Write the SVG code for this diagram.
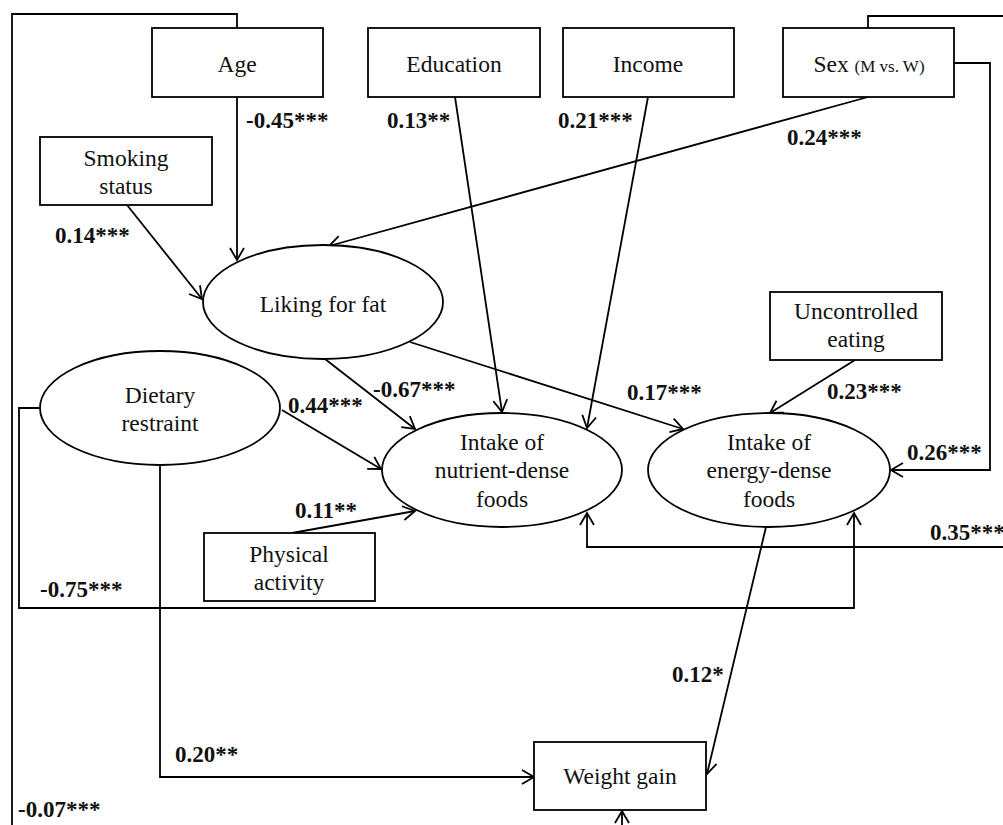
<svg xmlns="http://www.w3.org/2000/svg" width="1003" height="825" viewBox="0 0 1003 825">
<defs>
<marker id="arr" viewBox="-14 -8 16 16" refX="0" refY="0" markerWidth="16" markerHeight="16" markerUnits="userSpaceOnUse" orient="auto">
<path d="M-12,-7 L0,0 L-12,7" fill="none" stroke="#000" stroke-width="1.8"/>
</marker>
<style>
.n{fill:#fff;stroke:#000;stroke-width:1.8}
.t{font-family:"Liberation Serif","Times New Roman",serif;font-size:23.5px;fill:#111;text-anchor:middle}
.s{font-size:17px}
.l{font-family:"Liberation Serif","Times New Roman",serif;font-size:23px;font-weight:bold;fill:#111}
.c{fill:none;stroke:#000;stroke-width:1.8}
.a{marker-end:url(#arr)}
</style>
</defs>
<rect width="1003" height="825" fill="#fff"/>
<g id="connectors">
<path class="c a" d="M237,28 V14 H12 V850 H622 V811"/>
<path class="c a" d="M868,28 V16 H1020 V547 H587 V513"/>
<path class="c a" d="M954,63 H990 V470 H891"/>
<path class="c a" d="M868,97 L329,246"/>
<path class="c a" d="M237,97 V260"/>
<path class="c a" d="M127,205 L202,299"/>
<path class="c a" d="M455,97 L502,412"/>
<path class="c a" d="M648,97 L587,428"/>
<path class="c a" d="M325,359 L415,429"/>
<path class="c a" d="M410,342 L683,429"/>
<path class="c a" d="M282,410 L381,469"/>
<path class="c a" d="M292,533 L415,511"/>
<path class="c a" d="M855,360 L770,413"/>
<path class="c a" d="M766,527 L707,774"/>
<path class="c a" d="M40,408 H19 V608 H854 V513"/>
<path class="c a" d="M160,465 V777 H534"/>
</g>
<g id="labels">
<text class="l" x="246" y="128">-0.45***</text>
<text class="l" x="55" y="243">0.14***</text>
<text class="l" x="387" y="128">0.13**</text>
<text class="l" x="558" y="128">0.21***</text>
<text class="l" x="787" y="145">0.24***</text>
<text class="l" x="373" y="397">-0.67***</text>
<text class="l" x="627" y="400">0.17***</text>
<text class="l" x="288" y="413">0.44***</text>
<text class="l" x="827" y="399">0.23***</text>
<text class="l" x="907" y="460">0.26***</text>
<text class="l" x="295" y="518">0.11**</text>
<text class="l" x="930" y="540">0.35***</text>
<text class="l" x="40" y="597">-0.75***</text>
<text class="l" x="672" y="682">0.12*</text>
<text class="l" x="175" y="762">0.20**</text>
<text class="l" x="18" y="817">-0.07***</text>
</g>
<g id="age"><rect class="n" x="152" y="28" width="171" height="69"/><text class="t" x="237" y="72">Age</text></g>
<g id="education"><rect class="n" x="368" y="28" width="172" height="69"/><text class="t" x="454" y="72">Education</text></g>
<g id="income"><rect class="n" x="563" y="28" width="171" height="69"/><text class="t" x="648" y="72">Income</text></g>
<g id="sex"><rect class="n" x="783" y="28" width="171" height="69"/><text class="t" x="869" y="72">Sex <tspan class="s">(M vs. W)</tspan></text></g>
<g id="smoking"><rect class="n" x="40" y="137" width="172" height="68"/><text class="t" x="126" y="166">Smoking</text><text class="t" x="126" y="194">status</text></g>
<g id="liking"><ellipse class="n" cx="323" cy="302" rx="120" ry="57"/><text class="t" x="323" y="312">Liking  for  fat</text></g>
<g id="uncontrolled"><rect class="n" x="770" y="292" width="172" height="68"/><text class="t" x="856" y="319">Uncontrolled</text><text class="t" x="856" y="347">eating</text></g>
<g id="dietary"><ellipse class="n" cx="160" cy="408" rx="120" ry="57"/><text class="t" x="160" y="403">Dietary</text><text class="t" x="160" y="431">restraint</text></g>
<g id="nutrient"><ellipse class="n" cx="502" cy="470" rx="120" ry="57"/><text class="t" x="502" y="450">Intake of</text><text class="t" x="502" y="478">nutrient-dense</text><text class="t" x="502" y="507">foods</text></g>
<g id="energy"><ellipse class="n" cx="769" cy="470" rx="121" ry="57"/><text class="t" x="769" y="450">Intake of</text><text class="t" x="769" y="478">energy-dense</text><text class="t" x="769" y="507">foods</text></g>
<g id="physical"><rect class="n" x="204" y="533" width="171" height="68"/><text class="t" x="289" y="562">Physical</text><text class="t" x="289" y="590">activity</text></g>
<g id="weight"><rect class="n" x="534" y="742" width="172" height="68"/><text class="t" x="620" y="784">Weight gain</text></g>
</svg>
